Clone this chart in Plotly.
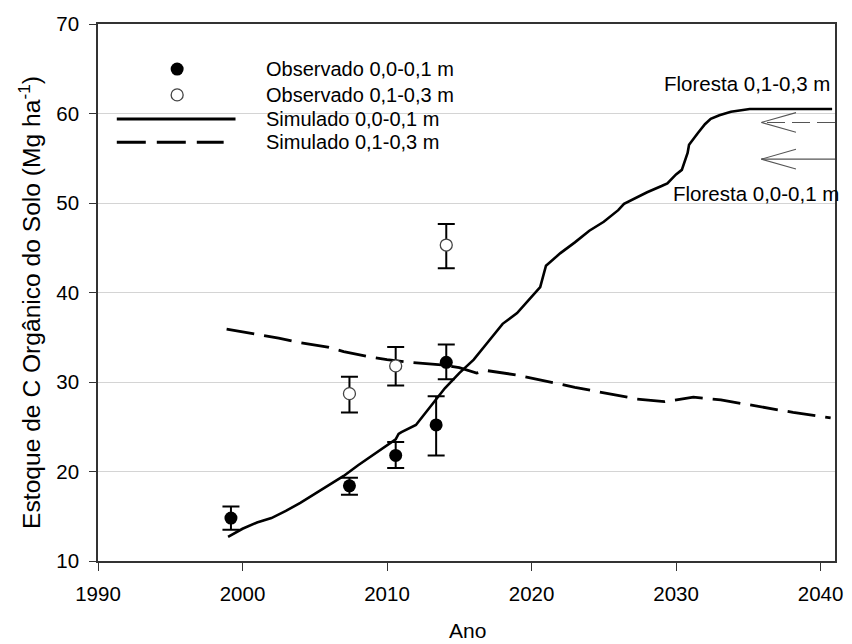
import plotly.graph_objects as go

# ---------------- data ----------------
obs_top_year = [1999.2, 2007.4, 2010.6, 2013.4, 2014.1]
obs_top_val = [14.8, 18.4, 21.8, 25.2, 32.2]
obs_top_err_plus = [1.3, 0.9, 1.5, 3.2, 2.0]
obs_top_err_minus = [1.3, 1.0, 1.4, 3.4, 1.9]

obs_sub_year = [2007.4, 2010.6, 2014.1]
obs_sub_val = [28.7, 31.8, 45.3]
obs_sub_err_plus = [1.9, 2.1, 2.35]
obs_sub_err_minus = [2.1, 2.2, 2.6]

sim_top_year = [1999.0, 2000, 2001, 2002, 2003, 2004, 2005, 2006, 2007, 2008, 2009,
                2010, 2010.6, 2010.8, 2011, 2012, 2013, 2014, 2015, 2016, 2017, 2018,
                2019, 2020, 2020.6, 2021, 2022, 2023, 2024, 2025, 2026, 2026.4, 2027,
                2028, 2029, 2029.4, 2030, 2030.4, 2030.8, 2030.9, 2031.5, 2032, 2032.4,
                2033, 2033.8, 2035.1, 2040.8]
sim_top_val = [12.7, 13.6, 14.3, 14.8, 15.6, 16.5, 17.5, 18.5, 19.5, 20.7, 21.8,
               23.0, 23.6, 24.2, 24.4, 25.2, 27.2, 29.3, 31.0, 32.5, 34.5, 36.5,
               37.7, 39.5, 40.6, 43.0, 44.4, 45.6, 46.9, 47.9, 49.2, 49.9, 50.4,
               51.2, 51.9, 52.2, 53.2, 53.7, 55.6, 56.5, 57.8, 58.8, 59.4,
               59.8, 60.2, 60.5, 60.5]

sim_sub_year = [1998.9, 2000, 2001, 2002.5, 2004, 2005.9, 2007, 2008.8, 2010, 2011.6,
                2013.9, 2015, 2016.2, 2016.8, 2018.9, 2020, 2021.6, 2023, 2024.6, 2026,
                2027.3, 2029.2, 2030.1, 2031.2, 2033.1, 2035.3, 2038.1, 2040.7]
sim_sub_val = [35.9, 35.6, 35.3, 34.9, 34.4, 33.9, 33.4, 32.8, 32.5, 32.2,
               31.9, 31.6, 31.0, 31.3, 30.8, 30.4, 29.9, 29.4, 28.9, 28.5,
               28.1, 27.8, 28.0, 28.3, 28.0, 27.4, 26.6, 26.0]

# forest reference values (arrows on the right)
floresta_top = 54.9   # Floresta 0,0-0,1 m
floresta_sub = 59.0   # Floresta 0,1-0,3 m

legend_labels = ["Observado 0,0-0,1 m", "Observado 0,1-0,3 m",
                 "Simulado 0,0-0,1 m", "Simulado 0,1-0,3 m"]
x_ticks = [1990, 2000, 2010, 2020, 2030, 2040]
y_ticks = [10, 20, 30, 40, 50, 60, 70]

FONT = "Liberation Sans, Arial, sans-serif"
DASH = "28px,10px"

fig = go.Figure()

# simulated lines
fig.add_trace(go.Scatter(x=sim_top_year, y=sim_top_val, mode="lines",
                         line=dict(color="black", width=2.6), showlegend=False))
fig.add_trace(go.Scatter(x=sim_sub_year, y=sim_sub_val, mode="lines",
                         line=dict(color="black", width=2.8, dash=DASH), showlegend=False))

# forest arrows
x_end, x_tip, x_head = 2041, 2035.9, 2038.3
for val, dash in [(floresta_sub, "18px,7px"), (floresta_top, "solid")]:
    fig.add_trace(go.Scatter(x=[x_end, x_tip], y=[val, val], mode="lines",
                             line=dict(color="#555555", width=1.1, dash=dash),
                             showlegend=False, cliponaxis=False))
    fig.add_trace(go.Scatter(x=[x_head, x_tip, x_head], y=[val + 1.1, val, val - 1.1],
                             mode="lines", line=dict(color="#555555", width=1.1),
                             showlegend=False))

# observed points
fig.add_trace(go.Scatter(x=obs_top_year, y=obs_top_val, mode="markers",
                         marker=dict(color="black", size=13, line=dict(width=0)),
                         error_y=dict(type="data", array=obs_top_err_plus,
                                      arrayminus=obs_top_err_minus, color="black",
                                      thickness=2, width=8.5),
                         showlegend=False))
fig.add_trace(go.Scatter(x=obs_sub_year, y=obs_sub_val, mode="markers",
                         marker=dict(color="white", size=12, line=dict(width=1.3, color="#444444")),
                         error_y=dict(type="data", array=obs_sub_err_plus,
                                      arrayminus=obs_sub_err_minus, color="black",
                                      thickness=2, width=8.5),
                         showlegend=False))

# custom legend on an overlay axis in [0,1] x [0,1]
leg_y = [0.916, 0.868, 0.823, 0.780]
fig.add_trace(go.Scatter(x=[0.1074], y=[leg_y[0]], mode="markers", xaxis="x2", yaxis="y2",
                         marker=dict(color="black", size=13), showlegend=False))
fig.add_trace(go.Scatter(x=[0.1074], y=[leg_y[1]], mode="markers", xaxis="x2", yaxis="y2",
                         marker=dict(color="white", size=12, line=dict(width=1.3, color="#444444")),
                         showlegend=False))
fig.add_trace(go.Scatter(x=[0.0255, 0.1866], y=[leg_y[2]] * 2, mode="lines", xaxis="x2", yaxis="y2",
                         line=dict(color="black", width=3), showlegend=False))
fig.add_trace(go.Scatter(x=[0.0255, 0.1705], y=[leg_y[3]] * 2, mode="lines", xaxis="x2", yaxis="y2",
                         line=dict(color="black", width=3, dash="29px,11px"), showlegend=False))

annotations = []
for lab, yy in zip(legend_labels, leg_y):
    annotations.append(dict(x=0.2255, y=yy, xref="paper", yref="paper", text=lab,
                            showarrow=False, xanchor="left", yanchor="middle",
                            font=dict(size=20, color="black", family=FONT)))
annotations.append(dict(x=0.996, y=0.890, xref="paper", yref="paper",
                        text="Floresta 0,1-0,3 m", showarrow=False,
                        xanchor="right", yanchor="middle",
                        font=dict(size=20.5, color="black", family=FONT)))
annotations.append(dict(x=1.008, y=0.685, xref="paper", yref="paper",
                        text="Floresta 0,0-0,1 m", showarrow=False,
                        xanchor="right", yanchor="middle",
                        font=dict(size=20.5, color="black", family=FONT)))
annotations.append(dict(x=-0.094, y=0.482, xref="paper", yref="paper",
                        text="Estoque de C Orgânico do Solo (Mg ha<sup>-1</sup>)",
                        showarrow=False, textangle=-90, xanchor="center", yanchor="middle",
                        font=dict(size=24.6, color="black", family=FONT)))
annotations.append(dict(x=0.5007, y=-0.130, xref="paper", yref="paper",
                        text="Ano", showarrow=False, xanchor="center", yanchor="middle",
                        font=dict(size=21, color="black", family=FONT)))

fig.update_layout(
    width=852, height=644,
    margin=dict(l=98, r=9, t=24, b=83),
    paper_bgcolor="white", plot_bgcolor="white",
    showlegend=False,
    font=dict(family=FONT, size=20, color="black"),
    annotations=annotations,
    xaxis=dict(range=[1990, 2041], tickvals=x_ticks, ticks="outside", ticklen=8,
               tickwidth=1.3, tickcolor="#333333",
               showline=True, linecolor="#333333", linewidth=1.5, mirror=True,
               showgrid=False, zeroline=False, ticklabelstandoff=6,
               tickfont=dict(size=20.5, family=FONT, color="black")),
    yaxis=dict(range=[10, 70], tickvals=y_ticks, ticks="outside", ticklen=7,
               tickwidth=1.3, tickcolor="#333333",
               showline=True, linecolor="#333333", linewidth=1.5, mirror=True,
               showgrid=True, gridcolor="#d4d4d4", gridwidth=1, zeroline=False,
               ticklabelstandoff=6,
               tickfont=dict(size=20.5, family=FONT, color="black")),
    xaxis2=dict(overlaying="x", range=[0, 1], visible=False, fixedrange=True),
    yaxis2=dict(overlaying="y", range=[0, 1], visible=False, fixedrange=True),
)

fig.write_html("out.html")
